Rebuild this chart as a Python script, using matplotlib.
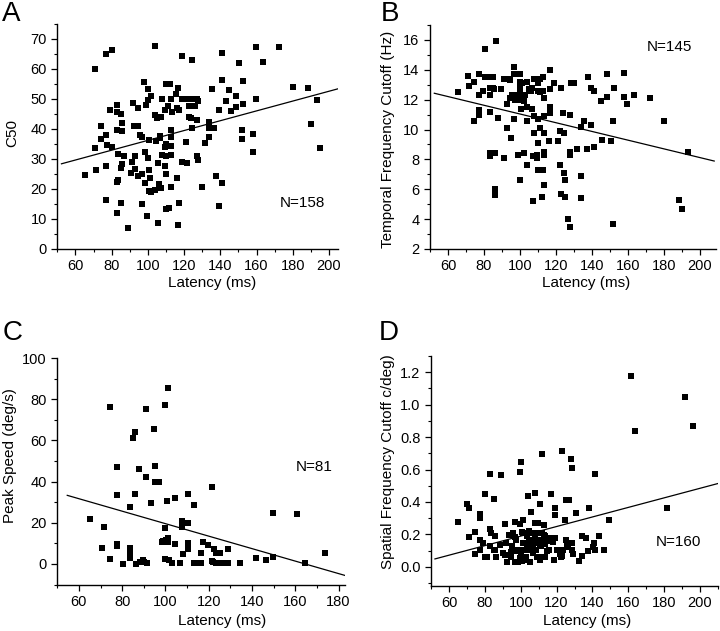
import matplotlib
matplotlib.use("Agg")
import matplotlib.pyplot as plt
from matplotlib.ticker import MultipleLocator, FormatStrFormatter

plt.rcParams['font.family'] = ['Liberation Sans', 'DejaVu Sans']

# ---------------- Data ----------------
# Panel A: C50 vs latency
a_lat = [65.3, 71, 70.6, 71.2, 74.1, 74, 77, 80, 77, 77.2, 77, 77, 79.2, 80, 83, 83, 83, 83.3, 83.3, 83,
         83, 85.2, 85.8, 85.8, 86, 85.3, 85.3, 87.1, 89.1, 91.7, 92.5, 91, 90.9, 93, 92.8, 94.5, 94.5, 95.4,
         94.8, 96.6, 96.6, 96.6, 97.9, 98.8, 98.3, 98.3, 99.4, 100.1, 100.1, 100.8, 100.3, 100.8, 101, 100.8,
         101.9, 101.8, 104, 103.8, 104.3, 104, 105.3, 105.6, 106.2, 105.8, 106.9, 107.3, 107.3, 107.6, 107.6,
         106.7, 109.5, 110, 110.2, 109.5, 110, 109.6, 110, 110, 111.5, 111.3, 112.2, 112.9, 112.9, 112.9,
         112.9, 112.9, 112.9, 113.1, 115.7, 115.9, 115.9, 116.6, 117, 117, 116.8, 118.8, 118.8, 119, 121,
         121, 121.7, 122.5, 122.5, 122.5, 123.6, 124.3, 124.6, 124.8, 125.8, 127.4, 127.8, 127.4, 127.4,
         127.9, 130, 131.6, 133.5, 133.5, 133.8, 135.7, 135.7, 136.7, 137.7, 139.2, 139.2, 141.1, 141.1,
         141.1, 143, 144.8, 145.7, 148.6, 148.6, 150.5, 151.9, 151.8, 152.5, 152.5, 158, 158, 159.6, 159.6,
         163.5, 172.6, 180, 188.2, 190.2, 193.3, 195.2]
a_c50 = [24.6, 60, 33.7, 26.4, 40.9, 36.8, 65, 66.3, 38.1, 34.8, 27.6, 16.2, 46.4, 34.1, 48, 45.7, 39.7, 31.8,
         23, 22.4, 12, 44.9, 42, 39.4, 28.3, 26.9, 15.3, 30.9, 7.1, 48.7, 40.9, 28.9, 25.2, 30.9, 26.6, 40.9,
         46.9, 38.1, 24.4, 37.2, 25.1, 15.1, 55.7, 48, 32.3, 21.9, 10.9, 53.4, 49.8, 36.3, 30.3, 26.4, 23.7,
         19.2, 18.9, 51.1, 67.6, 44.8, 35.9, 19.8, 43.7, 28.7, 21.8, 8.7, 37.6, 43.9, 20.3, 50.1, 31.2, 37,
         46.4, 55.1, 34.9, 34.1, 30.9, 27.6, 25.1, 13.3, 13.7, 47.8, 55, 50.1, 39.8, 37.3, 34.2, 31.2, 20.6,
         45.7, 51.8, 47, 23.7, 53.8, 46.4, 15.3, 8.1, 64.4, 50.1, 28.9, 50.1, 35.6, 28.7, 50, 47.8, 44, 43.7,
         40.3, 62.9, 50.1, 47.6, 50, 49.2, 43.1, 30.9, 29.8, 20.8, 35.3, 42.2, 40.3, 37.3, 53.3, 40.3, 40.3,
         24.2, 14.4, 46.2, 65.3, 56.4, 22, 49.2, 53, 46.1, 47.3, 51, 62, 39.6, 36.7, 56, 48.4, 38.4, 32.3,
         67.3, 50, 62.2, 67.2, 54, 53.6, 41.8, 49.7, 33.8]
a_fit_x = [52.3, 205]
a_fit_y = [28.4, 53.4]

# Panel B: temporal frequency cutoff vs latency
b_lat = [65.5, 71, 71.6, 74.5, 74.5, 77.5, 77.5, 77.5, 77.5, 79.3, 80.4, 80.4, 83.6, 83.6, 83.6, 83.6, 83.6,
         83.6, 85.2, 85.6, 86, 86.3, 86.3, 86.5, 87.8, 89.3, 91.3, 91.3, 93, 93, 93, 94.6, 94.6, 95, 95.4,
         96.7, 96.7, 96.7, 96.7, 98, 98.7, 99.8, 100.1, 100.1, 100.3, 100.3, 100.1, 100.7, 101.6, 102.2,
         102.9, 104, 104, 104.2, 104.2, 105.3, 106, 106.8, 107.1, 107.1, 107.9, 107.9, 107.9, 109.4, 109.7,
         110, 110, 110, 110, 110.3, 111.4, 111.4, 112.1, 112.9, 112.9, 112.9, 113.2, 113.1, 113.2, 113.2,
         113.2, 113.2, 116.2, 116.9, 116.9, 116.9, 116.9, 119.1, 121, 122.1, 122.1, 122.8, 122.8, 124.1,
         124.5, 124.6, 125.2, 125.2, 126.5, 128, 128, 128.1, 128, 128.4, 130.2, 132, 133.9, 133.9, 133.9,
         135.7, 137.2, 137.6, 139.4, 139.4, 141.2, 141.2, 145.3, 145.8, 148.6, 148.6, 150.4, 151.9, 151.9,
         152.3, 157.8, 157.8, 159.6, 163.3, 172.5, 179.9, 188.2, 190, 193.2,
         101.1, 100.2, 95.6, 97.4, 102, 94.6, 106.7, 111.3, 85.3]
b_tfc = [12.5, 13.6, 12.9, 13.2, 10.6, 13.7, 12.3, 11.3, 11, 12.6, 15.4, 13.5, 13.5, 12.8, 12.3, 11.2, 8.4,
         8.2, 13.5, 12.7, 8.4, 6, 5.6, 15.9, 10.8, 12.7, 13.4, 8.1, 13.4, 11.7, 10.1, 13.4, 12.1, 9.4, 12.3,
         14.2, 13.7, 12.3, 10.7, 12.3, 8.3, 6.6, 13.7, 13.2, 12.8, 12.5, 12, 11.4, 12.3, 8.4, 12.3, 13.2,
         11.5, 10.6, 7.6, 12.7, 12.6, 11.4, 8.2, 5.2, 13.4, 10.9, 9.8, 8.3, 8.1, 13.1, 12.6, 9.1, 7.3, 10.7,
         13.4, 10.1, 5.5, 7.3, 13.5, 12.6, 12.1, 10.9, 9.8, 8.5, 8.3, 6.3, 9.2, 14, 12.7, 11.5, 11.1, 13.1,
         9.2, 9.9, 7.6, 12.8, 5.7, 11.1, 9.8, 7.1, 6.6, 5.5, 4, 3.5, 11, 8.5, 8.3, 13.1, 13.1, 8.7, 10.2,
         6.9, 5.4, 10.6, 8.7, 13.5, 10.3, 12.8, 8.8, 12.6, 11.9, 9.3, 13.7, 12.2, 9.2, 3.7, 10.6, 12.8, 13.8,
         12.2, 11.7, 12.3, 12.1, 10.6, 5.3, 4.7, 8.5,
         13.1, 12.4, 12.2, 12, 11.9, 13.3, 12.8, 12.5, 12.8]
b_fit_x = [52.4, 208]
b_fit_y = [12.43, 7.89]

# Panel C: peak speed vs latency
c_lat = [65.2, 71.5, 70.6, 74.5, 74.5, 77.4, 77.4, 77.4, 77.4, 83.8, 83.5, 83.8, 83.4, 80.3, 84.9, 85.7,
         85.7, 86.2, 87.7, 89.5, 91.2, 91.2, 91.4, 93.2, 94.9, 95.2, 95.2, 97.1, 98.5, 100, 100, 100, 100,
         101.1, 100.8, 101.4, 101.4, 101.8, 102.8, 104.5, 104.5, 106.5, 107.5, 107.5, 108.3, 110.5, 110.5,
         110.5, 110.5, 113.4, 113.4, 114.9, 116.2, 116.5, 117.5, 119.5, 121.4, 121.4, 122.6, 123.4, 124.2,
         125.2, 125.5, 128.8, 128.8, 134.5, 142, 146.5, 149.5, 149.5, 160.8, 164.6, 173.8,
         114.2, 116.5, 123.4, 125.7, 128, 121.8, 98.8, 100.3, 88, 90.3]
c_speed = [21.9, 18.1, 7.8, 76, 2.3, 47, 33.3, 9.5, 8.6, 27.7, 7.8, 4.6, 2.8, 0, 61.2, 64.1, 33.8, 0, 46, 2,
           75, 42.4, 0.5, 29.4, 65.3, 47.5, 39.6, 40, 10.8, 77, 17.3, 10.8, 2.6, 85.3, 30.7, 12.7, 10.6, 2.1,
           0.2, 32, 9.6, 0.2, 20.9, 17.8, 4.6, 34, 19.7, 10.3, 7.3, 28.5, 0.2, 0.2, 0.2, 5.4, 10.4, 9.1, 37.4,
           1.3, 7, 5.5, 0.2, 5.2, 0.2, 7.2, 0.2, 0.2, 2.8, 2.1, 3.4, 24.5, 24, 0.2, 5.1,
           0.3, 0.3, 0.3, 0.3, 0.3, 1.1, 10.9, 11.4, 1.1, 1.1]
c_fit_x = [54.6, 183]
c_fit_y = [33.3, -5.6]

# Panel D: spatial frequency cutoff vs latency
d_lat = [65.2, 70.2, 71.1, 71.1, 74.3, 74.3, 77.2, 77.2, 77.2, 77.2, 79.1, 80.2, 80.2, 83.1, 83.1, 83.7,
         83.1, 85.2, 85.6, 85.6, 86.5, 88.3, 89.3, 90.2, 91.3, 92, 93.5, 94.8, 94.8, 95.7, 96.1, 96.9, 96.9,
         97.6, 98.5, 98.5, 99.4, 99.4, 100.2, 100.4, 100.7, 101.3, 101.3, 101.3, 101.9, 103.1, 103.5, 103.5,
         104.1, 104.4, 104.6, 105, 105.4, 105.9, 106.3, 106.9, 107.1, 107.8, 107.8, 108.3, 108.7, 109.3,
         109.8, 109.8, 110.6, 110.6, 111.5, 111.9, 111.5, 112, 113, 113.4, 113.7, 113.7, 114.3, 115.6, 117.1,
         117.4, 118, 118.9, 118.9, 119.4, 120.7, 121.7, 122.2, 123, 123, 123.5, 124.8, 125.4, 125.4, 126.3,
         127.2, 127.8, 128.5, 128.5, 128.5, 129.1, 130.6, 132.4, 134.3, 134.3, 136.5, 138, 137.4, 140.2,
         141.1, 141.7, 141.7, 143.5, 146.3, 149.4, 161.5, 163.9, 181.3, 191.7, 196.3,
         95.2, 98, 99.8, 101.7, 104.4, 105.4, 107.2, 109.1, 110.9, 112.8, 114.7, 116.5, 100.8, 97, 91.5,
         88.7, 85, 81.3, 120.2, 123, 108.2, 102.6, 105.4, 110.9, 118.3, 125.8, 92.4]
d_sfc = [0.279, 0.388, 0.36, 0.187, 0.216, 0.08, 0.323, 0.302, 0.164, 0.107, 0.148, 0.452, 0.058, 0.575,
         0.234, 0.21, 0.127, 0.421, 0.193, 0.107, 0.058, 0.134, 0.567, 0.086, 0.263, 0.148, 0.199, 0.092,
         0.062, 0.21, 0.107, 0.279, 0.031, 0.168, 0.107, 0.031, 0.584, 0.267, 0.645, 0.08, 0.035, 0.286,
         0.21, 0.148, 0.107, 0.058, 0.189, 0.127, 0.436, 0.224, 0.158, 0.107, 0.168, 0.339, 0.21, 0.127,
         0.086, 0.456, 0.193, 0.148, 0.107, 0.06, 0.271, 0.21, 0.39, 0.168, 0.127, 0.697, 0.06, 0.21, 0.257,
         0.189, 0.142, 0.06, 0.179, 0.107, 0.45, 0.179, 0.154, 0.36, 0.318, 0.175, 0.107, 0.08, 0.06, 0.717,
         0.066, 0.107, 0.286, 0.415, 0.168, 0.121, 0.415, 0.666, 0.608, 0.148, 0.107, 0.08, 0.333, 0.039,
         0.066, 0.189, 0.179, 0.36, 0.097, 0.121, 0.148, 0.573, 0.107, 0.193, 0.107, 0.286, 1.179, 0.836,
         0.364, 1.046, 0.867,
         0.126, 0.095, 0.054, 0.147, 0.208, 0.105, 0.167, 0.064, 0.126, 0.198, 0.095, 0.157, 0.218, 0.187,
         0.074, 0.136, 0.105, 0.064, 0.105, 0.074, 0.27, 0.043, 0.033, 0.043, 0.043, 0.126, 0.033]
d_fit_x = [52.2, 210]
d_fit_y = [0.049, 0.514]

# ---------------- Figure ----------------
W, H = 720, 631
fig = plt.figure(figsize=(W / 100, H / 100), dpi=100)


def px_axes(left, right, top, bottom):
    return fig.add_axes([left / W, 1 - bottom / H, (right - left) / W, (bottom - top) / H])


axA = px_axes(57.3, 338, 24, 249)
axB = px_axes(430, 716, 25, 249)
axC = px_axes(57.3, 345, 358, 584.5)
axD = px_axes(431, 718, 356, 585.7)

TICK_FS = 10.5
LAB_FS = 11


def style(ax):
    for s in ['top', 'right']:
        ax.spines[s].set_visible(False)
    for s in ['left', 'bottom']:
        ax.spines[s].set_linewidth(1.0)
    ax.tick_params(which='major', direction='out', length=4.5, width=0.9, labelsize=TICK_FS, pad=3)
    ax.tick_params(which='minor', direction='out', length=2.3, width=0.8)
    ax.xaxis.set_major_locator(MultipleLocator(20))
    ax.xaxis.set_minor_locator(MultipleLocator(10))


def draw(ax, x, y, fx, fy):
    ax.scatter(x, y, marker='s', s=18, color='black', linewidths=0, zorder=3)
    ax.plot(fx, fy, color='black', lw=0.9, zorder=2)
    style(ax)


draw(axA, a_lat, a_c50, a_fit_x, a_fit_y)
axA.set_xlim(50, 205)
axA.set_ylim(0, 75)
axA.yaxis.set_major_locator(MultipleLocator(10))
axA.yaxis.set_minor_locator(MultipleLocator(5))
axA.text(173, 15.3, 'N=158', fontsize=LAB_FS, va='center', ha='left')

draw(axB, b_lat, b_tfc, b_fit_x, b_fit_y)
axB.set_xlim(50, 209)
axB.set_ylim(2, 17)
axB.yaxis.set_major_locator(MultipleLocator(2))
axB.yaxis.set_minor_locator(MultipleLocator(1))
axB.text(170.3, 15.5, 'N=145', fontsize=LAB_FS, va='center', ha='left')

draw(axC, c_lat, c_speed, c_fit_x, c_fit_y)
axC.set_xlim(50, 183)
axC.set_ylim(-10, 100)
axC.set_xticks([60, 80, 100, 120, 140, 160, 180])
axC.yaxis.set_major_locator(MultipleLocator(20))
axC.yaxis.set_minor_locator(MultipleLocator(10))
axC.text(160.3, 47.1, 'N=81', fontsize=LAB_FS, va='center', ha='left')

draw(axD, d_lat, d_sfc, d_fit_x, d_fit_y)
axD.set_xlim(50, 210)
axD.set_ylim(-0.116, 1.3)
axD.yaxis.set_major_locator(MultipleLocator(0.2))
axD.yaxis.set_minor_locator(MultipleLocator(0.1))
axD.yaxis.set_major_formatter(FormatStrFormatter('%.1f'))
axD.text(175.4, 0.152, 'N=160', fontsize=LAB_FS, va='center', ha='left')


def ftext(x, y, s, **kw):
    fig.text(x / W, 1 - y / H, s, **kw)


# axis labels
ftext(212, 283, 'Latency (ms)', fontsize=LAB_FS, ha='center', va='center')
ftext(586, 283, 'Latency (ms)', fontsize=LAB_FS, ha='center', va='center')
ftext(222, 621, 'Latency (ms)', fontsize=LAB_FS, ha='center', va='center')
ftext(587, 621, 'Latency (ms)', fontsize=LAB_FS, ha='center', va='center')
ftext(12, 133, 'C50', fontsize=LAB_FS, ha='center', va='center', rotation=90)
ftext(388, 139, 'Temporal Frequency Cutoff (Hz)', fontsize=LAB_FS, ha='center', va='center', rotation=90)
ftext(10, 456, 'Peak Speed (deg/s)', fontsize=LAB_FS, ha='center', va='center', rotation=90)
ftext(388, 462, 'Spatial Frequency Cutoff c/deg)', fontsize=LAB_FS, ha='center', va='center', rotation=90)

# panel letters
ftext(2, 1, 'A', fontsize=20, ha='left', va='top')
ftext(381, 1, 'B', fontsize=20, ha='left', va='top')
ftext(3, 320, 'C', fontsize=20, ha='left', va='top')
ftext(379, 320, 'D', fontsize=20, ha='left', va='top')

fig.savefig('out.png', dpi=100)
